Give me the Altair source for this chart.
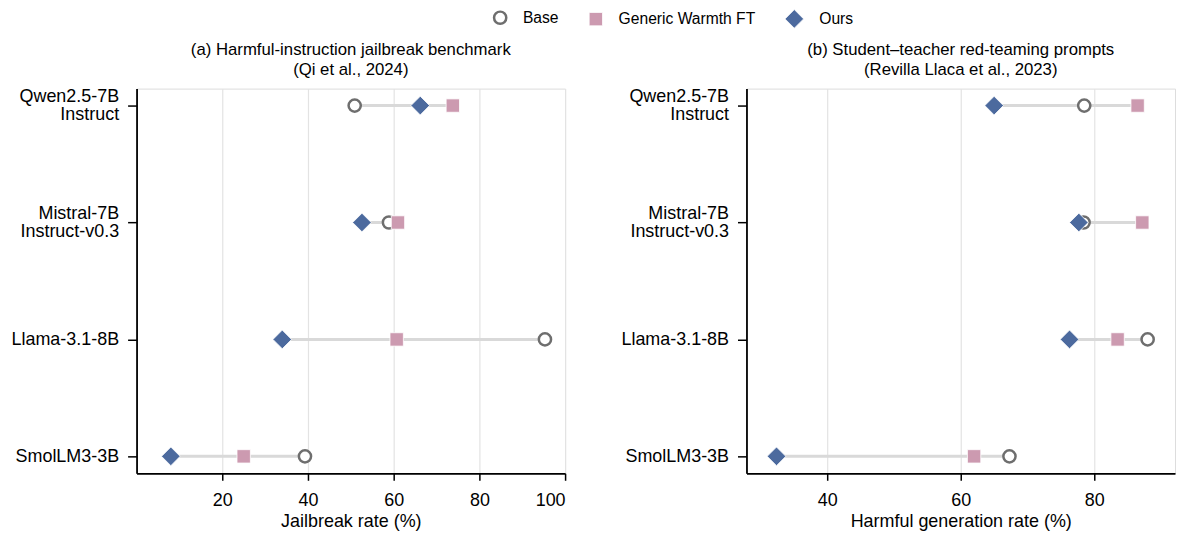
import altair as alt
import pandas as pd

models = ["Qwen2.5-7B\nInstruct", "Mistral-7B\nInstruct-v0.3", "Llama-3.1-8B", "SmolLM3-3B"]
methods = ["Base", "Generic Warmth FT", "Ours"]

# (a) Harmful-instruction jailbreak benchmark: jailbreak rate (%)
jb_base = [50.9, 58.9, 95.3, 39.3]
jb_generic = [73.8, 61.0, 60.7, 25.0]
jb_ours = [66.2, 52.6, 34.0, 8.0]

# (b) Student-teacher red-teaming prompts: harmful generation rate (%)
hg_base = [78.5, 78.4, 88.0, 67.3]
hg_generic = [86.5, 87.2, 83.5, 62.0]
hg_ours = [65.0, 77.7, 76.3, 32.4]

FONT = "Liberation Sans, Arial, Helvetica, sans-serif"
LAB = 18


def build(base, generic, ours):
    rows = []
    for i, m in enumerate(models):
        for k, (meth, vals) in enumerate(zip(methods, [base, generic, ours])):
            rows.append({"model": m, "method": meth, "value": vals[i], "ord": k})
    pts = pd.DataFrame(rows)
    rng = pd.DataFrame({
        "model": models,
        "lo": [min(a, b, c) for a, b, c in zip(base, generic, ours)],
        "hi": [max(a, b, c) for a, b, c in zip(base, generic, ours)],
    })
    return pts, rng


legend = alt.Legend(
    orient="none", legendX=357, legendY=-80, direction="horizontal", title=None,
    labelFontSize=15.7, labelFont=FONT, labelColor="#000000", labelOffset=15,
    columnPadding=28, symbolOpacity=1, padding=0,
)


def panel(base, generic, ours, title, xtitle, domain, ticks):
    pts, rng = build(base, generic, ours)
    yenc = alt.Y(
        "model:N", sort=models,
        scale=alt.Scale(type="point", padding=0.145),
        axis=alt.Axis(
            title=None, labelExpr="split(datum.label, '\\n')", labelFontSize=LAB,
            labelLineHeight=18, labelFont=FONT, labelColor="#000000",
            labelOffset={"condition": {"test": "indexof(datum.value, '\\n') >= 0", "value": -9}, "value": 0},
            domainColor="#000000", domainWidth=1.8, tickColor="#000000",
            tickWidth=1.5, tickSize=9, labelPadding=9, grid=False,
        ),
    )
    xscale = alt.Scale(domain=domain, nice=False, zero=False)
    xaxis = alt.Axis(
        values=ticks, title=xtitle, titleFontSize=LAB, titleFont=FONT,
        titleFontWeight="normal", titleColor="#000000", titlePadding=3,
        labelFontSize=LAB, labelFont=FONT, labelColor="#000000",
        domainColor="#000000", domainWidth=1.8, tickColor="#000000",
        tickWidth=1.5, tickSize=7, labelPadding=11,
        grid=True, gridColor="#e3e3e3", gridWidth=1.2,
    )
    rules = alt.Chart(rng).mark_rule(color="#d9d9d9", strokeWidth=3).encode(
        x=alt.X("lo:Q", scale=xscale, axis=xaxis),
        x2="hi:Q",
        y=yenc,
    )
    points = alt.Chart(pts).mark_point(filled=True, opacity=1).encode(
        x=alt.X("value:Q", scale=xscale, axis=xaxis),
        y=yenc,
        shape=alt.Shape("method:N", scale=alt.Scale(domain=methods, range=["circle", "square", "diamond"]), legend=legend),
        fill=alt.Fill("method:N", scale=alt.Scale(domain=methods, range=["#ffffff", "#cc9ab0", "#4c6a9e"]), legend=legend),
        stroke=alt.Stroke("method:N", scale=alt.Scale(domain=methods, range=["#6e6e6e", "#ffffff", "#ffffff"]), legend=legend),
        strokeWidth=alt.StrokeWidth("method:N", scale=alt.Scale(type="ordinal", domain=methods, range=[2.5, 0.8, 0.8]), legend=legend),
        size=alt.Size("method:N", scale=alt.Scale(type="ordinal", domain=methods, range=[150, 180, 350]), legend=legend),
        order=alt.Order("ord:Q"),
    )
    return alt.layer(rules, points).properties(
        width=430, height=386,
        title=alt.TitleParams(title, fontSize=16.8, font=FONT, fontWeight="normal", color="#000000", anchor="middle", offset=9, lineHeight=20),
    )


left = panel(jb_base, jb_generic, jb_ours,
             ["(a) Harmful-instruction jailbreak benchmark", "(Qi et al., 2024)"],
             "Jailbreak rate (%)", [0, 100], [20, 40, 60, 80, 100])
right = panel(hg_base, hg_generic, hg_ours,
              ["(b) Student\u2013teacher red-teaming prompts", "(Revilla Llaca et al., 2023)"],
              "Harmful generation rate (%)", [27.9, 92.1], [40, 60, 80])

chart = alt.hconcat(left, right, spacing=53).properties(
    padding={"left": 2, "top": 0, "right": 0, "bottom": 0},
).configure_view(stroke=None).configure(font=FONT)

chart.save("out.html", embed_options={"renderer": "svg", "actions": False})
